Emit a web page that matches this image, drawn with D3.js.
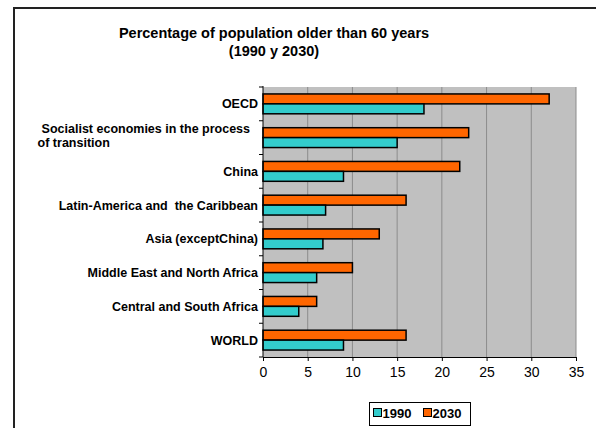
<!DOCTYPE html>
<html>
<head>
<meta charset="utf-8">
<script src="https://cdn.jsdelivr.net/npm/d3@7"></script>
<style>
  body { margin: 0; background: #fff; }
  text { font-family: "Liberation Sans", Arial, sans-serif; }
</style>
</head>
<body>
<div id="chart"></div>
<script>
// data
const categories = [
  "OECD",
  "Socialist economies in the process|of transition",
  "China",
  "Latin-America and  the Caribbean",
  "Asia (exceptChina)",
  "Middle East and North Africa",
  "Central and South Africa",
  "WORLD"
];
const series = ["2030", "1990"];
const values1990 = [18, 15, 9, 7, 6.7, 6, 4, 9];
const values2030 = [32, 23, 22, 16, 13, 10, 6, 16];
const xTicks = [0, 5, 10, 15, 20, 25, 30, 35];
const legendItems = ["1990", "2030"];
const titleLines = ["Percentage of population older than 60 years", "(1990 y 2030)"];

const colors = {"1990": "#33cccc", "2030": "#ff6600"};

const width = 596, height = 428;
const svg = d3.select("#chart").append("svg")
    .attr("width", width)
    .attr("height", height);

// outer frame (runs off the right and bottom edge)
svg.append("rect")
    .attr("x", 14).attr("y", 8)
    .attr("width", 620).attr("height", 460)
    .attr("fill", "none")
    .attr("stroke", "#222")
    .attr("stroke-width", 2);

// title
svg.append("text")
    .attr("x", 274).attr("y", 38)
    .attr("text-anchor", "middle")
    .style("font-weight", "bold")
    .style("font-size", "14.5px")
    .selectAll("tspan")
    .data(titleLines)
    .join("tspan")
    .attr("x", 274)
    .attr("dy", (d, i) => i ? 17.5 : 0)
    .text(d => d);

const x = d3.scaleLinear().domain([0, 35]).range([263, 576]);
const y = d3.scaleBand().domain(categories).range([87, 357]).paddingInner(0).paddingOuter(0);
const ySub = d3.scaleBand().domain(series).range([0, y.bandwidth()]).paddingInner(0).paddingOuter(0.7);

// plot area
svg.append("rect")
    .attr("x", x(0)).attr("y", 87)
    .attr("width", x(35) - x(0)).attr("height", 357 - 87)
    .attr("fill", "#c0c0c0");

// vertical gridlines
svg.append("g")
    .selectAll("line")
    .data(xTicks.slice(1))
    .join("line")
    .attr("x1", d => x(d)).attr("x2", d => x(d))
    .attr("y1", 87).attr("y2", 357)
    .attr("stroke", "#8c8c8c")
    .attr("stroke-width", 1);

// bars
const rows = categories.map((c, i) => ({cat: c, "1990": values1990[i], "2030": values2030[i]}));
const groups = svg.append("g")
    .selectAll("g")
    .data(rows)
    .join("g")
    .attr("transform", d => `translate(0,${y(d.cat)})`);

groups.selectAll("rect")
    .data(d => series.map(s => ({s: s, v: d[s]})))
    .join("rect")
    .attr("x", x(0))
    .attr("y", d => ySub(d.s))
    .attr("width", d => x(d.v) - x(0))
    .attr("height", ySub.bandwidth())
    .attr("fill", d => colors[d.s])
    .attr("stroke", "#000")
    .attr("stroke-width", 1.5);

// x axis
const xAxis = svg.append("g")
    .attr("transform", "translate(0,357)")
    .call(d3.axisBottom(x).tickValues(xTicks).tickSize(4).tickPadding(6));
xAxis.select(".domain").attr("stroke", "#000");
xAxis.selectAll("text")
    .style("font-size", "14px")
    .style("font-family", "'Liberation Sans', Arial, sans-serif")
    .attr("fill", "#000");

// y axis: line with ticks at category boundaries
const yAxis = svg.append("g");
yAxis.append("line")
    .attr("x1", x(0)).attr("x2", x(0))
    .attr("y1", 86).attr("y2", 357)
    .attr("stroke", "#000");
yAxis.selectAll("line.tick")
    .data(categories.map(c => y(c)).concat([357]))
    .join("line")
    .attr("class", "tick")
    .attr("x1", x(0) - 4).attr("x2", x(0))
    .attr("y1", d => d).attr("y2", d => d)
    .attr("stroke", "#000");

// category labels
const labels = svg.append("g")
    .selectAll("text")
    .data(categories)
    .join("text")
    .style("font-weight", "bold")
    .style("font-size", "12.5px")
    .style("white-space", "pre")
    .attr("fill", "#000");

labels.each(function(d) {
  const lines = d.split("|");
  const t = d3.select(this);
  const cy = y(d) + y.bandwidth() / 2;
  if (lines.length === 1) {
    t.attr("x", 258).attr("y", cy + 4.5).attr("text-anchor", "end").text(d);
  } else {
    const tsp = t.selectAll("tspan").data(lines).join("tspan").text(l => l);
    const w = d3.max(tsp.nodes(), n => n.getComputedTextLength());
    const x0 = 250 - w;
    t.attr("text-anchor", "start");
    tsp.attr("x", (l, i) => i ? x0 - 4 : x0)
       .attr("y", (l, i) => cy - 5 + i * 14.5);
  }
});

// legend
const legend = svg.append("g");
legend.append("rect")
    .attr("x", 369.5).attr("y", 402.5)
    .attr("width", 101).attr("height", 23)
    .attr("fill", "#fff")
    .attr("stroke", "#000");
const lx = d3.scalePoint().domain(legendItems).range([373, 423]);
const li = legend.selectAll("g.item")
    .data(legendItems)
    .join("g")
    .attr("class", "item")
    .attr("transform", d => `translate(${lx(d)},0)`);
li.append("rect")
    .attr("x", 0.5).attr("y", 408.5)
    .attr("width", 8).attr("height", 8)
    .attr("fill", d => colors[d])
    .attr("stroke", "#000");
li.append("text")
    .attr("x", 9.5).attr("y", 417.5)
    .style("font-weight", "bold")
    .style("font-size", "13px")
    .text(d => d);
</script>
</body>
</html>
